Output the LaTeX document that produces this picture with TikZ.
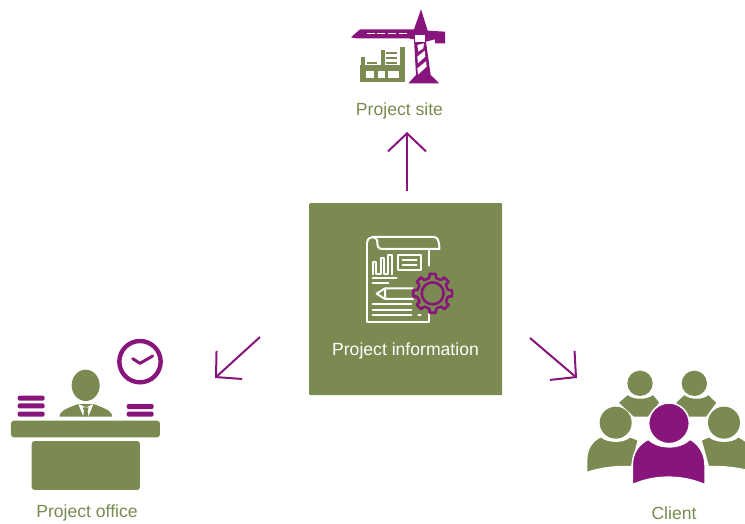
\documentclass[tikz,border=0pt]{standalone}
\usepackage{fontspec}
\setmainfont{Liberation Sans}
\usetikzlibrary{arrows.meta}
\definecolor{olive}{HTML}{7A8A50}
\definecolor{plum}{HTML}{87157B}
\tikzset{
  flow/.style={draw=plum,line width=2pt,-{Straight Barb[length=18pt,width=38pt,line width=2pt]}},
  caption/.style={text=olive,font=\fontsize{17.6}{20}\selectfont,inner sep=0pt,anchor=center},
  hub/.style={fill=olive,minimum width=193pt,minimum height=192pt,inner sep=0pt,anchor=north west,rounded corners=1pt},
  paper/.style={draw=white,line width=2pt,line cap=round,line join=round},
  gfill/.style={fill=olive,draw=none},
  pfill/.style={fill=plum,draw=none},
  cutg/.style={fill=olive,draw=white,line width=1.5pt,line join=round},
  cutp/.style={fill=plum,draw=white,line width=1.5pt,line join=round},
}
\begin{document}
\begin{tikzpicture}[x=1pt,y=-1pt]
\useasboundingbox (0,0) rectangle (745,524);
\clip (0,0) rectangle (745,524);
% hub
\node[hub] (hub) at (309,203) {};
\node[text=white,font=\fontsize{17.6}{20}\selectfont,inner sep=0pt] (hubtext) at (405.5,351) {Project information};
% captions
\node[caption] (site) at (399.5,111) {Project site};
\node[caption] (office) at (87,513) {Project office};
\node[caption] (client) at (674,513) {Client};
% arrows
\coordinate (a1) at (407,191); \coordinate (a2) at (407,132);
\coordinate (b1) at (260,337); \coordinate (b2) at (215,378);
\coordinate (c1) at (530,338); \coordinate (c2) at (577,378);
\draw[flow] (a1) -- (a2);
\draw[flow] (b1) -- (b2);
\draw[flow] (c1) -- (c2);
% crane
\begin{scope}[shift={(340,0)},scale=1/3]
  \fill[pfill] (243,28) -- (263,92) -- (315,95) -- (315,130) -- (285,130) -- (285,118) -- (258,125) -- (272,225) -- (298,250) -- (205,250) -- (228,225) -- (222,118) -- (205,115) -- (48,115) -- (33,112) -- (60,88) -- (222,88) -- cycle;
  \fill[white] (225,106) rectangle (255,125);
  \foreach \x in {80,112,144,176} \fill[white] (\x,99) rectangle +(24,4);
  \fill[white] (232,135) -- (252,130) -- (250,145) -- (235,155) -- cycle;
  \fill[white] (232,170) -- (254,152) -- (256,170) -- (234,190) -- cycle;
  \fill[white] (232,205) -- (258,184) -- (260,200) -- (234,224) -- cycle;
  \fill[gfill] (60,196) rectangle (194,247);
  \fill[white] (78,212) rectangle (103,235);
  \fill[white] (113,212) rectangle (135,235);
  \fill[white] (145,212) rectangle (178,235);
  \fill[gfill] (62,172) rectangle (76,198);
  \fill[gfill] (80,186) rectangle (112,192);
  \fill[gfill] (122,150) rectangle (135,198);
  \foreach \y in {155,170,185} \fill[olive] (139,\y) rectangle (170,\y+6);
  \fill[gfill] (180,140) rectangle (194,198);
\end{scope}
% document icon
\begin{scope}[shift={(350,225)},scale=1/3]
  \draw[paper] (52,52) .. controls (52,42) and (60,36) .. (68,36) -- (250,36) .. controls (262,36) and (268,44) .. (268,72) -- (96,72) .. controls (84,72) and (82,62) .. (82,52) .. controls (82,42) and (76,36) .. (68,36);
  \draw[paper] (52,52) -- (52,290) -- (236,290) -- (236,160);
  \draw[paper] (236,72) -- (236,122);
  \draw[paper] (68,148) -- (68,112) -- (78,112) -- (78,148) -- (92,148) -- (92,98) -- (103,98) -- (103,148) -- (115,148) -- (115,90) -- (127,90) -- (127,148);
  \draw[paper] (145,90) rectangle (214,136);
  \draw[paper] (158,104) -- (200,104) (158,120) -- (200,120);
  \draw[paper] (68,160) -- (140,160) (68,174) -- (115,174);
  \draw[paper] (190,190) -- (105,190) -- (80,206) -- (105,222) -- (190,222) (105,190) -- (105,222);
  \draw[paper] (68,238) -- (184,238) (68,254) -- (184,254) (68,270) -- (184,270) (205,270) -- (212,270);
  \begin{scope}[shift={(248,205)}]
    \fill[fill=olive] (0,0) circle (60);
    \draw[draw=plum,line width=2.6pt,line join=round]
      \foreach \a in {0,45,...,315} {
        (\a-12:47) -- (\a-9:59) -- (\a+9:59) -- (\a+12:47) -- (\a+33:47)
      };
    \draw[draw=plum,line width=2.6pt] (0,0) circle (33);
  \end{scope}
\end{scope}
% office icon
\begin{scope}[shift={(0,330)},scale=1/3]
  \fill[gfill,rounded corners=3pt] (33,272) rectangle (480,322);
  \fill[gfill,rounded corners=3pt] (95,333) rectangle (420,480);
  \foreach \y in {197,220,245} \fill[plum,rounded corners=2pt] (53,\y) rectangle (134,\y+15);
  \foreach \y in {222,245} \fill[plum,rounded corners=2pt] (380,\y) rectangle (461,\y+15);
  \fill[gfill] (257,166) ellipse (42 and 47);
  \fill[gfill] (178,260) .. controls (180,245) and (190,238) .. (235,222) -- (280,222) .. controls (325,238) and (335,245) .. (337,260) -- cycle;
  \fill[white] (235,222) -- (250,260) -- (265,260) -- (280,222) -- (258,232) -- cycle;
  \fill[gfill] (249,232) -- (266,232) -- (263,244) -- (266,260) -- (249,260) -- (252,244) -- cycle;
  \draw[draw=plum,line width=4.4pt] (420,95) circle (62);
  \draw[draw=plum,line width=3pt,line cap=round,line join=round] (398,86) -- (420,100) -- (458,78);
\end{scope}
% client icon
\begin{scope}[shift={(575,360)},scale=1/3]
  \fill[gfill] (195,70) circle (38);
  \fill[gfill] (358,70) circle (38);
  \path[cutg] (128,128) -- (158,102) .. controls (175,118) and (215,118) .. (235,102) -- (256,128) -- (220,172) -- (175,172) -- cycle;
  \path[cutg] (300,128) -- (328,102) .. controls (345,118) and (385,118) .. (400,102) -- (427,128) -- (395,172) -- (340,172) -- cycle;
  \fill[gfill] (122,188) circle (48);
  \fill[gfill] (447,188) circle (48);
  \path[cutg] (35,338) -- (35,300) .. controls (35,262) and (55,240) .. (78,230) .. controls (100,248) and (145,248) .. (165,230) -- (190,240) -- (170,320) -- (165,320) .. controls (120,318) and (70,325) .. cycle;
  \path[cutg] (378,240) -- (402,230) .. controls (425,248) and (470,248) .. (490,230) .. controls (520,245) and (535,262) .. (540,300) -- (540,338) .. controls (500,325) and (450,318) .. (400,320) -- cycle;
  \path[cutp] (282,190) circle (61);
  \path[cutp] (172,374) -- (172,315) .. controls (172,280) and (190,252) .. (220,238) .. controls (250,268) and (315,268) .. (345,238) .. controls (370,250) and (390,280) .. (390,315) -- (390,374) .. controls (320,344) and (240,344) .. cycle;
\end{scope}
\end{tikzpicture}
\end{document}
